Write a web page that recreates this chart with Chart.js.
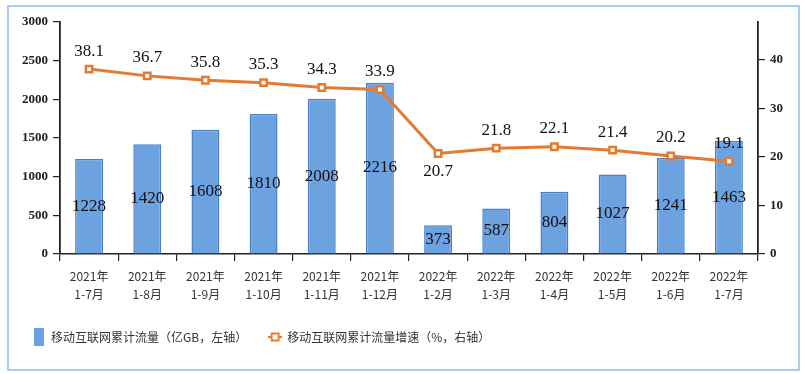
<!DOCTYPE html>
<html>
<head>
<meta charset="utf-8">
<script src="https://cdn.jsdelivr.net/npm/chart.js@4.4.1/dist/chart.umd.min.js"></script>
<style>
  html, body { margin: 0; padding: 0; background: #fff; }
  #wrap { position: relative; width: 807px; height: 373px; }
  #frame { position: absolute; left: 7px; top: 5px; width: 789px; height: 362px; border: 2px solid #a8cdef; pointer-events: none; }
  canvas { position: absolute; left: 0; top: 0; }
</style>
</head>
<body>
<div id="wrap">
  <canvas id="chart" width="807" height="373"></canvas>
  <div id="frame"></div>
</div>
<script>
// 类别（x轴）
const categories = [
    ['2021年', '1-7月'], ['2021年', '1-8月'], ['2021年', '1-9月'], ['2021年', '1-10月'],
    ['2021年', '1-11月'], ['2021年', '1-12月'], ['2022年', '1-2月'], ['2022年', '1-3月'],
    ['2022年', '1-4月'], ['2022年', '1-5月'], ['2022年', '1-6月'], ['2022年', '1-7月']
];
// 移动互联网累计流量（亿GB）
const trafficValues = [1228, 1420, 1608, 1810, 2008, 2216, 373, 587, 804, 1027, 1241, 1463];
// 累计流量增速（%）
const growthValues = [38.1, 36.7, 35.8, 35.3, 34.3, 33.9, 20.7, 21.8, 22.1, 21.4, 20.2, 19.1];
// 左右轴刻度
const leftTicks = [0, 500, 1000, 1500, 2000, 2500, 3000];
const rightTicks = [0, 10, 20, 30, 40];

const barColor = '#6da2e0';
const barBorder = '#4a7fc6';
const lineColor = '#e47b30';

// 图例图标
function makeBarIcon() {
    const c = document.createElement('canvas');
    c.width = 10; c.height = 18;
    const g = c.getContext('2d');
    g.fillStyle = barColor;
    g.fillRect(0, 0, 10, 18);
    return c;
}
function makeLineIcon() {
    const c = document.createElement('canvas');
    c.width = 14; c.height = 10;
    const g = c.getContext('2d');
    g.strokeStyle = lineColor;
    g.lineWidth = 2;
    g.beginPath(); g.moveTo(0, 5); g.lineTo(14, 5); g.stroke();
    g.fillStyle = '#fff';
    g.fillRect(3.5, 1.5, 7, 7);
    g.strokeRect(3.5, 1.5, 7, 7);
    return c;
}

// 数据标签
const valueLabels = {
    id: 'valueLabels',
    afterDatasetsDraw(chart) {
        const ctx = chart.ctx;
        ctx.save();
        ctx.font = '17px "Liberation Serif", "Times New Roman", serif';
        ctx.fillStyle = '#111';
        ctx.textAlign = 'center';
        ctx.textBaseline = 'middle';
        chart.getDatasetMeta(0).data.forEach((el, i) => {
            ctx.fillText(String(trafficValues[i]), el.x, (el.y + el.base) / 2);
        });
        chart.getDatasetMeta(1).data.forEach((el, i) => {
            const dy = i === 6 ? 18 : -18;
            ctx.fillText(growthValues[i].toFixed(1), el.x, el.y + dy);
        });
        ctx.restore();
    }
};

const tickFont = { family: '"Liberation Serif", "Times New Roman", serif', size: 13, weight: 'bold' };

new Chart(document.getElementById('chart'), {
    data: {
        labels: categories,
        datasets: [
            {
                type: 'bar',
                label: '移动互联网累计流量（亿GB，左轴）',
                data: trafficValues,
                yAxisID: 'y',
                backgroundColor: barColor,
                borderColor: barBorder,
                borderWidth: 1.5,
                barPercentage: 0.48,
                categoryPercentage: 1,
                order: 2
            },
            {
                type: 'line',
                label: '移动互联网累计流量增速（%，右轴）',
                data: growthValues,
                yAxisID: 'y1',
                borderColor: lineColor,
                borderWidth: 3,
                pointStyle: 'rect',
                pointRadius: 4.5,
                pointBorderWidth: 2.5,
                pointBackgroundColor: '#fff',
                pointBorderColor: lineColor,
                tension: 0,
                order: 1
            }
        ]
    },
    options: {
        responsive: false,
        animation: false,
        layout: { padding: { left: 11, top: 22, right: 0, bottom: 20 } },
        plugins: {
            tooltip: { enabled: false },
            legend: {
                position: 'bottom',
                align: 'start',
                labels: {
                    usePointStyle: true,
                    pointStyleWidth: 12,
                    padding: 22,
                    color: '#333',
                    font: { family: '"Noto Sans CJK SC", sans-serif', size: 12 },
                    generateLabels(chart) {
                        const ds = chart.data.datasets;
                        return [
                            { text: ds[0].label, pointStyle: makeBarIcon(), fontColor: '#333', datasetIndex: 0, lineWidth: 0, hidden: false },
                            { text: ds[1].label, pointStyle: makeLineIcon(), fontColor: '#333', datasetIndex: 1, lineWidth: 0, hidden: false }
                        ];
                    }
                }
            }
        },
        scales: {
            x: {
                offset: true,
                border: { display: true, color: '#222', width: 1.5 },
                grid: { display: true, drawOnChartArea: false, offset: true, tickLength: 7, color: '#222', lineWidth: 1.2 },
                ticks: {
                    color: '#333',
                    padding: 6,
                    maxRotation: 0,
                    autoSkip: false,
                    font: { family: '"Noto Sans CJK SC", sans-serif', size: 12, lineHeight: 1.5 }
                },
                afterFit(scale) { scale.height = 55; }
            },
            y: {
                position: 'left',
                min: 0,
                max: 3000,
                border: { display: true, color: '#222', width: 1.8 },
                grid: { display: true, drawOnChartArea: false, tickLength: 7, color: '#222', lineWidth: 1.2 },
                afterBuildTicks(scale) { scale.ticks = leftTicks.map(v => ({ value: v })); },
                ticks: { color: '#222', padding: 5, font: tickFont, callback: v => String(v) },
                afterFit(scale) { scale.width = 49; }
            },
            y1: {
                position: 'right',
                min: 0,
                max: 47.8,
                border: { display: true, color: '#222', width: 1.8 },
                grid: { display: true, drawOnChartArea: false, tickLength: 7, color: '#222', lineWidth: 1.2 },
                afterBuildTicks(scale) { scale.ticks = rightTicks.map(v => ({ value: v })); },
                ticks: { color: '#222', padding: 5, font: tickFont, callback: v => String(v) },
                afterFit(scale) { scale.width = 49; }
            }
        }
    },
    plugins: [valueLabels]
});
</script>
</body>
</html>
